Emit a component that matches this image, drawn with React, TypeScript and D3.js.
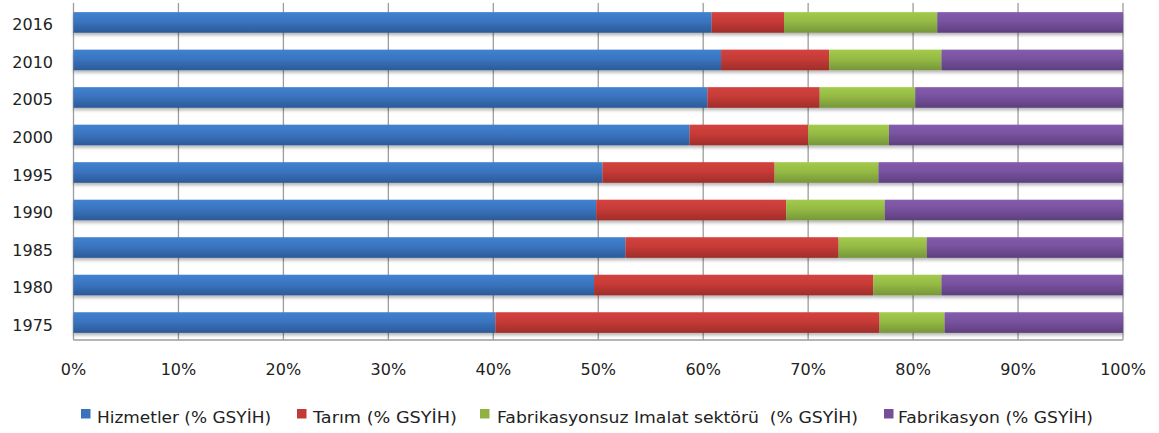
import React from "react";
import * as d3 from "d3";

const years = ["2016", "2010", "2005", "2000", "1995", "1990", "1985", "1980", "1975"];
const hizmetler = [60.8, 61.7, 60.4, 58.7, 50.4, 49.8, 52.6, 49.6, 40.2];
const tarim = [6.9, 10.3, 10.7, 11.3, 16.4, 18.1, 20.3, 26.6, 36.6];
const fabrikasyonsuz = [14.6, 10.7, 9.1, 7.7, 9.9, 9.4, 8.4, 6.5, 6.2];
const fabrikasyon = [17.7, 17.3, 19.8, 22.3, 23.3, 22.7, 18.7, 17.3, 17.0];
const seriesNames = [
  "Hizmetler (% GSYİH)",
  "Tarım (% GSYİH)",
  "Fabrikasyonsuz Imalat sektörü  (% GSYİH)",
  "Fabrikasyon (% GSYİH)",
];
const xTicks = [0, 10, 20, 30, 40, 50, 60, 70, 80, 90, 100];

const keys = ["h", "t", "fs", "f"];
const palette = [
  { top: "#4182D0", mid: "#3A74C0", bot: "#2C5A97", legend: "#3A72BE" },
  { top: "#D4433F", mid: "#C63B37", bot: "#9F2D2A", legend: "#C33A36" },
  { top: "#A3CB4C", mid: "#95BA44", bot: "#76963A", legend: "#8FB242" },
  { top: "#855CAD", mid: "#78529F", bot: "#5D3F7E", legend: "#75509A" },
];
// legend layout: [square x, text x, text width]
const legendLayout = [
  [81, 97, 174],
  [297, 313, 144],
  [480, 497, 361],
  [884, 898, 195],
];

export default function App() {
  const W = 1159;
  const H = 433;
  const x = d3.scaleLinear().domain([0, 100]).range([73.5, 1123]);
  const y = d3
    .scaleBand<string>()
    .domain(years)
    .range([5, 340])
    .paddingInner(0.45)
    .paddingOuter(0.19);

  const rows = years.map((yr, i) => ({
    year: yr,
    h: hizmetler[i],
    t: tarim[i],
    fs: fabrikasyonsuz[i],
    f: fabrikasyon[i],
  }));
  const stacked = d3.stack<any>().keys(keys)(rows);
  const font = "'DejaVu Sans', Verdana, sans-serif";

  return (
    <svg width={W} height={H} style={{ display: "block", position: "absolute", left: 0, top: 0 }}>
      <defs>
        {palette.map((p, i) => (
          <linearGradient key={i} id={`g${i}`} x1="0" y1="0" x2="0" y2="1">
            <stop offset="0" stopColor={p.top} />
            <stop offset="0.45" stopColor={p.mid} />
            <stop offset="1" stopColor={p.bot} />
          </linearGradient>
        ))}
        <filter id="sh" x="-5%" y="-30%" width="110%" height="180%">
          <feDropShadow dx="0" dy="2.5" stdDeviation="1.6" floodColor="#000" floodOpacity="0.28" />
        </filter>
      </defs>
      <rect width={W} height={H} fill="#fff" />
      {/* gridlines */}
      {xTicks.map((t) => (
        <line key={t} x1={x(t)} x2={x(t)} y1={3} y2={340} stroke="#9C9C9C" strokeWidth={1.3} />
      ))}
      {/* bottom axis */}
      <line x1={x(0)} x2={x(100)} y1={340} y2={340} stroke="#9C9C9C" strokeWidth={1.3} />
      {/* bars */}
      <g filter="url(#sh)">
        {stacked.map((s, si) =>
          s.map((d: any, di: number) => (
            <rect
              key={`${si}-${di}`}
              x={x(d[0])}
              y={y(d.data.year)}
              width={x(d[1]) - x(d[0])}
              height={y.bandwidth()}
              fill={`url(#g${si})`}
            />
          ))
        )}
      </g>
      {/* y labels */}
      {years.map((yr) => (
        <text
          key={yr}
          x={53}
          y={(y(yr) as number) + y.bandwidth() / 2 + 8}
          textAnchor="end"
          fontFamily={font}
          fontSize={16}
          fill="#222"
        >
          {yr}
        </text>
      ))}
      {/* x labels */}
      {xTicks.map((t) => (
        <text key={t} x={x(t)} y={375} textAnchor="middle" fontFamily={font} fontSize={16} fill="#222">
          {`${t}%`}
        </text>
      ))}
      {/* legend */}
      {seriesNames.map((n, i) => (
        <g key={n}>
          <rect x={legendLayout[i][0]} y={409} width={9.5} height={9.5} fill={palette[i].legend} />
          <text
            x={legendLayout[i][1]}
            y={423}
            fontFamily={font}
            fontSize={16}
            fill="#222"
            textLength={legendLayout[i][2]}
            lengthAdjust="spacingAndGlyphs"
            style={{ whiteSpace: "pre" }}
          >
            {n}
          </text>
        </g>
      ))}
    </svg>
  );
}
